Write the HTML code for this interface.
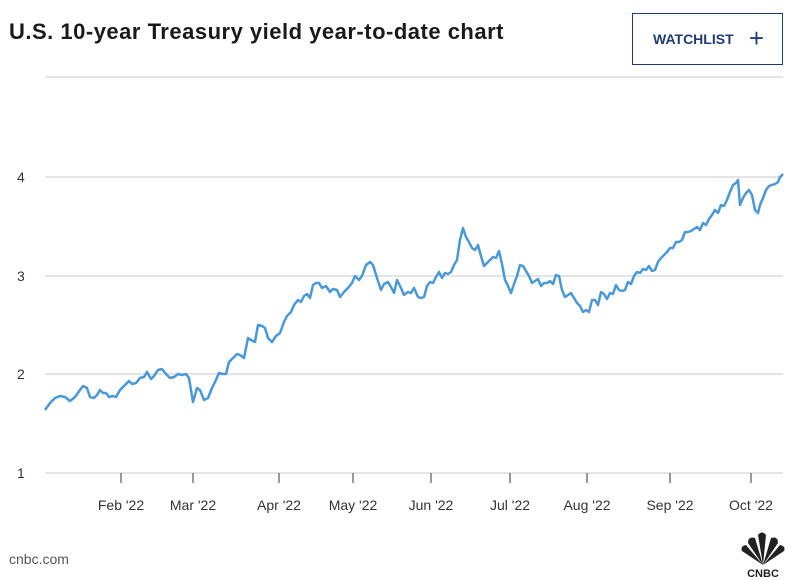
<!DOCTYPE html>
<html><head><meta charset="utf-8"><style>
body{margin:0;width:809px;height:580px;background:#fff;font-family:"Liberation Sans",Arial,sans-serif;overflow:hidden;position:relative}
.t{position:absolute;left:9px;top:19px;font-size:22px;font-weight:bold;color:#1a1a1a;letter-spacing:0.5px}
.btn{position:absolute;left:632px;top:13px;width:151px;height:52px;border:1px solid #1f3d73;box-sizing:border-box;color:#1f3d73;font-weight:bold;font-size:14px;line-height:50px;padding-left:20px}
.btn span{font-size:26px;font-weight:normal;position:absolute;right:18px;top:-1px}
.src{position:absolute;left:9px;top:551px;font-size:14px;color:#555}
</style></head><body>
<div class="t">U.S. 10-year Treasury yield year-to-date chart</div>
<div class="btn">WATCHLIST<span>+</span></div>
<svg width="809" height="580" style="position:absolute;left:0;top:0">
<g stroke="#dcdcdc" stroke-width="1.5">
<line x1="45" y1="77" x2="783" y2="77"/><line x1="45" y1="177" x2="783" y2="177"/><line x1="45" y1="276" x2="783" y2="276"/><line x1="45" y1="374" x2="783" y2="374"/><line x1="45" y1="473" x2="783" y2="473"/>
</g>
<g font-size="14" fill="#333" font-family="Liberation Sans,Arial,sans-serif">
<text x="17" y="182">4</text><text x="17" y="281">3</text><text x="17" y="379">2</text><text x="17" y="478">1</text>
</g>
<g stroke="#333" stroke-width="1">
<line x1="121" y1="473" x2="121" y2="483"/><line x1="193" y1="473" x2="193" y2="483"/><line x1="279" y1="473" x2="279" y2="483"/><line x1="353" y1="473" x2="353" y2="483"/><line x1="431" y1="473" x2="431" y2="483"/><line x1="510" y1="473" x2="510" y2="483"/><line x1="587" y1="473" x2="587" y2="483"/><line x1="670" y1="473" x2="670" y2="483"/><line x1="751" y1="473" x2="751" y2="483"/>
</g>
<g font-size="14" fill="#333" text-anchor="middle" font-family="Liberation Sans,Arial,sans-serif">
<text x="121" y="510">Feb '22</text><text x="193" y="510">Mar '22</text><text x="279" y="510">Apr '22</text><text x="353" y="510">May '22</text><text x="431" y="510">Jun '22</text><text x="510" y="510">Jul '22</text><text x="587" y="510">Aug '22</text><text x="670" y="510">Sep '22</text><text x="751" y="510">Oct '22</text>
</g>
<polyline fill="none" stroke="#4a98d6" stroke-width="2.5" stroke-linejoin="round" points="45,410 50,403 55,398 60,396 65,397 70,401 75,397 80,390 83,386 87,388 90,397 94,398 97,395 100,390 103,393 106,393 109,397 113,396 116,397 120,390 125,385 129,381 132,384 136,383 140,378 144,377 147,372 151,379 154,376 158,370 162,369 166,374 170,378 174,377 178,374 182,375 186,374 189,378 193,402 197,388 200,390 204,400 208,398 212,388 215,382 219,373 223,374 226,374 229,362 233,358 237,354 240,355 244,358 248,338 251,340 255,342 258,325 262,326 265,328 268,338 272,342 276,336 280,333 284,322 287,316 291,312 294,305 298,300 301,302 304,296 307,294 310,298 313,285 316,283 319,283 322,288 326,286 330,292 333,289 337,290 340,297 344,292 348,288 352,283 355,276 359,280 362,276 366,265 370,262 373,265 377,278 381,290 384,284 388,282 391,287 394,293 397,280 401,288 404,295 408,292 411,293 414,288 418,297 421,298 424,297 427,286 430,282 433,283 436,277 439,272 442,278 445,273 448,274 451,272 454,265 457,260 460,240 463,228 466,237 469,242 472,248 475,250 478,245 481,256 484,266 487,263 490,260 493,257 496,258 499,251 502,264 505,280 508,286 511,293 514,284 517,276 520,265 523,266 526,271 529,276 532,283 535,281 538,279 541,286 544,283 547,283 550,281 553,284 556,275 559,276 562,290 565,297 568,295 571,293 574,298 577,303 580,306 583,312 586,310 589,312 592,300 595,300 598,305 601,292 604,294 607,299 610,293 613,294 616,285 619,290 622,291 625,290 628,282 631,284 634,276 637,272 640,273 643,269 646,270 649,266 652,271 655,270 658,262 661,258 664,255 667,252 670,248 673,248 676,242 679,242 682,240 685,232 688,232 691,231 694,229 697,227 700,230 703,223 706,225 709,219 712,215 715,210 718,213 721,205 724,206 727,200 730,192 733,185 736,183 738,180 740,205 743,198 746,193 749,190 752,195 755,210 758,213 760,205 763,198 766,190 769,186 772,185 775,184 778,182 780,177 783,174"/>
<g fill="#222">
<path d="M763 565 L742 551 Q740 546 746 545 Z"/>
<path d="M763 565 L748 543 Q748 536 755 538 Z"/>
<path d="M763 565 L758 535 Q762 530 766 535 Z"/>
<path d="M763 565 L771 538 Q778 536 778 543 Z"/>
<path d="M763 565 L780 545 Q786 546 784 551 Z"/>
<text x="763" y="577" font-size="11" font-weight="bold" text-anchor="middle" font-family="Liberation Sans,Arial,sans-serif">CNBC</text>
</g>
</svg>
<div class="src">cnbc.com</div>
</body></html>
